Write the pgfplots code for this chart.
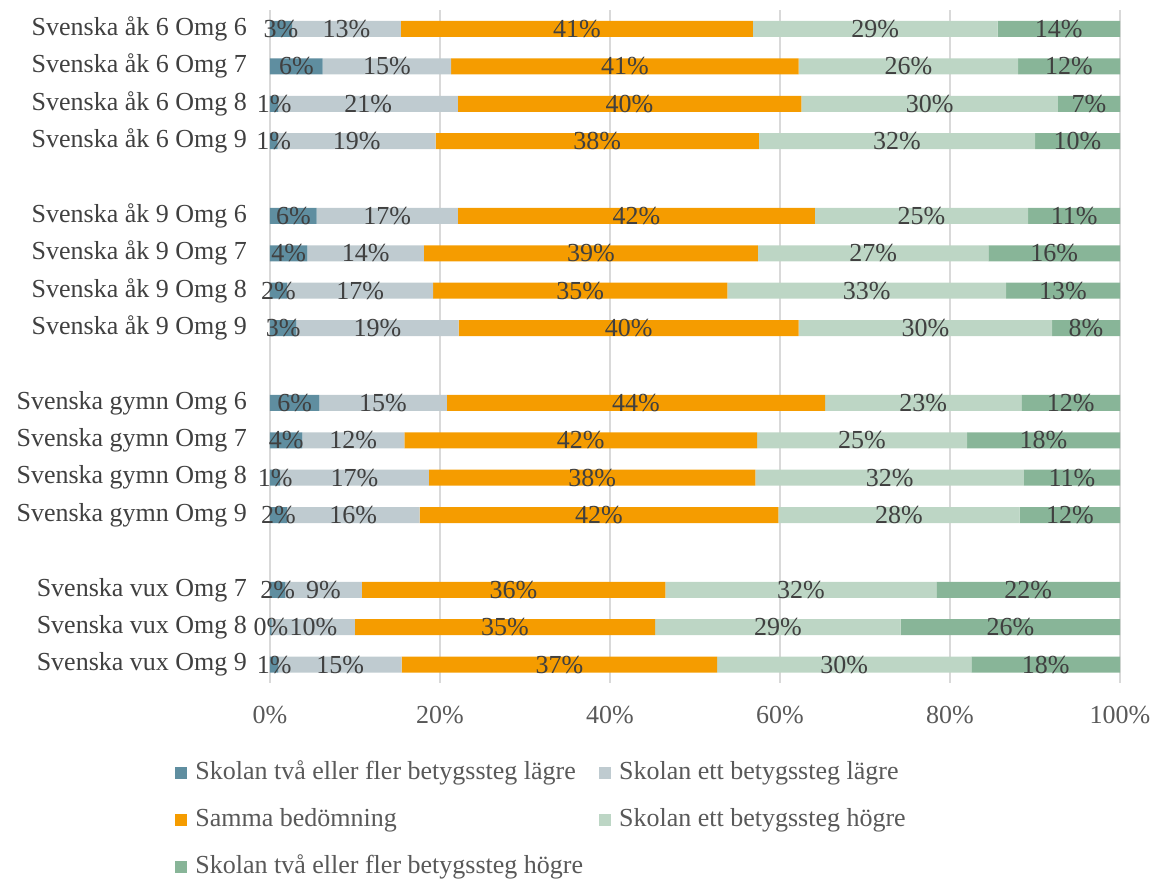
\documentclass[border=0pt]{standalone}
\usepackage{fontspec}
\setmainfont{Liberation Serif}
\usepackage{pgfplots}
\usepackage{pgfplotstable}
\pgfplotsset{compat=1.18}
\usetikzlibrary{calc}
\definecolor{cA}{HTML}{5F8EA0}
\definecolor{cB}{HTML}{BFCBD0}
\definecolor{cC}{HTML}{F59C00}
\definecolor{cD}{HTML}{BDD6C5}
\definecolor{cE}{HTML}{88B598}
\definecolor{gridc}{HTML}{D9D9D9}
\definecolor{txt}{HTML}{404040}
\definecolor{txtl}{HTML}{595959}

\pgfplotstableread{
pos a b c d e la lb lc ld le
0 2.6 12.8 41.4 28.8 14.4 3 13 41 29 14
1 6.2 15.1 40.9 25.8 12.0 6 15 41 26 12
2 1.0 21.1 40.4 30.2 7.3 1 21 40 30 7
3 0.9 18.6 38.0 32.5 10.0 1 19 38 32 10
5 5.5 16.6 42.0 25.1 10.8 6 17 42 25 11
6 4.4 13.7 39.3 27.1 15.5 4 14 39 27 16
7 2.0 17.2 34.6 32.8 13.4 2 17 35 33 13
8 3.1 19.1 40.0 29.8 8.0 3 19 40 30 8
10 5.8 15.0 44.5 23.1 11.6 6 15 44 23 12
11 3.8 12.0 41.5 24.7 18.0 4 12 42 25 18
12 1.2 17.5 38.4 31.6 11.3 1 17 38 32 11
13 2.0 15.6 42.2 28.4 11.8 2 16 42 28 12
15 1.8 9.0 35.7 31.9 21.6 2 9 36 32 22
16 0.2 9.8 35.3 28.9 25.8 0 10 35 29 26
17 1.0 14.5 37.1 29.9 17.5 1 15 37 30 18
}\data

\pgfplotsset{
  base/.style={
    width=425pt, height=336.5pt, scale only axis,
    xmin=0, xmax=100, ymin=-0.5, ymax=17.5, y dir=reverse,
  },
  lab/.style={draw=none, mark=none, nodes near coords={\pgfplotspointmeta\%},
    point meta=explicit symbolic,
    every node near coord/.append style={anchor=center, text=txt, inner sep=0pt}},
}

\begin{document}
\begin{tikzpicture}[font=\fontsize{13pt}{15.6pt}\selectfont]
\begin{axis}[base, name=main,
  xbar stacked, bar width=8pt,
  axis line style={draw=none},
  major tick length=0pt,
  xmajorgrids, grid style={draw=gridc, line width=1pt},
  xtick={0,20,40,60,80,100},
  xticklabels={0\%,20\%,40\%,60\%,80\%,100\%},
  x tick label style={text=txtl, yshift=-8pt},
  ytick={0,1,2,3,5,6,7,8,10,11,12,13,15,16,17},
  yticklabels={Svenska åk 6 Omg 6,Svenska åk 6 Omg 7,Svenska åk 6 Omg 8,Svenska åk 6 Omg 9,
    Svenska åk 9 Omg 6,Svenska åk 9 Omg 7,Svenska åk 9 Omg 8,Svenska åk 9 Omg 9,
    Svenska gymn Omg 6,Svenska gymn Omg 7,Svenska gymn Omg 8,Svenska gymn Omg 9,
    Svenska vux Omg 7,Svenska vux Omg 8,Svenska vux Omg 9},
  y tick label style={text=txt, xshift=-8pt},
  legend columns=2,
  legend cell align=left,
  legend image code/.code={\fill[#1] (0pt,-3pt) rectangle (6pt,3pt);},
  legend style={at={(0,0)}, anchor=north west, xshift=-47.5pt, yshift=-37pt,
    draw=none, inner sep=0pt, row sep=8.5pt,
    nodes={inner sep=1pt, text=txtl, text height=10pt, text depth=3pt},
    /tikz/every odd column/.append style={column sep=3pt},
    /tikz/every even column/.append style={column sep=7pt}},
]
\addplot[fill=cA, draw=none] table[x=a, y=pos] {\data};
\addplot[fill=cB, draw=none] table[x=b, y=pos] {\data};
\addplot[fill=cC, draw=none] table[x=c, y=pos] {\data};
\addplot[fill=cD, draw=none] table[x=d, y=pos] {\data};
\addplot[fill=cE, draw=none] table[x=e, y=pos] {\data};
\legend{Skolan två eller fler betygssteg lägre, Skolan ett betygssteg lägre,
  Samma bedömning, Skolan ett betygssteg högre, Skolan två eller fler betygssteg högre}
\coordinate (A) at (axis cs:0,-0.5);
\coordinate (B) at (axis cs:100,17.5);
\end{axis}
\begin{axis}[base, hide axis, at={(main.south west)}, anchor=south west]
\addplot[lab] table[x expr=\thisrow{a}/2, y=pos, meta=la] {\data};
\addplot[lab] table[x expr=\thisrow{a}+\thisrow{b}/2, y=pos, meta=lb] {\data};
\addplot[lab] table[x expr=\thisrow{a}+\thisrow{b}+\thisrow{c}/2, y=pos, meta=lc] {\data};
\addplot[lab] table[x expr=\thisrow{a}+\thisrow{b}+\thisrow{c}+\thisrow{d}/2, y=pos, meta=ld] {\data};
\addplot[lab] table[x expr=\thisrow{a}+\thisrow{b}+\thisrow{c}+\thisrow{d}+\thisrow{e}/2, y=pos, meta=le] {\data};
\end{axis}
\pgfresetboundingbox
\path[use as bounding box] ($(A)+(-135pt,5.15pt)$) rectangle ($(B)+(15.5pt,-98.65pt)$);
\end{tikzpicture}
\end{document}
